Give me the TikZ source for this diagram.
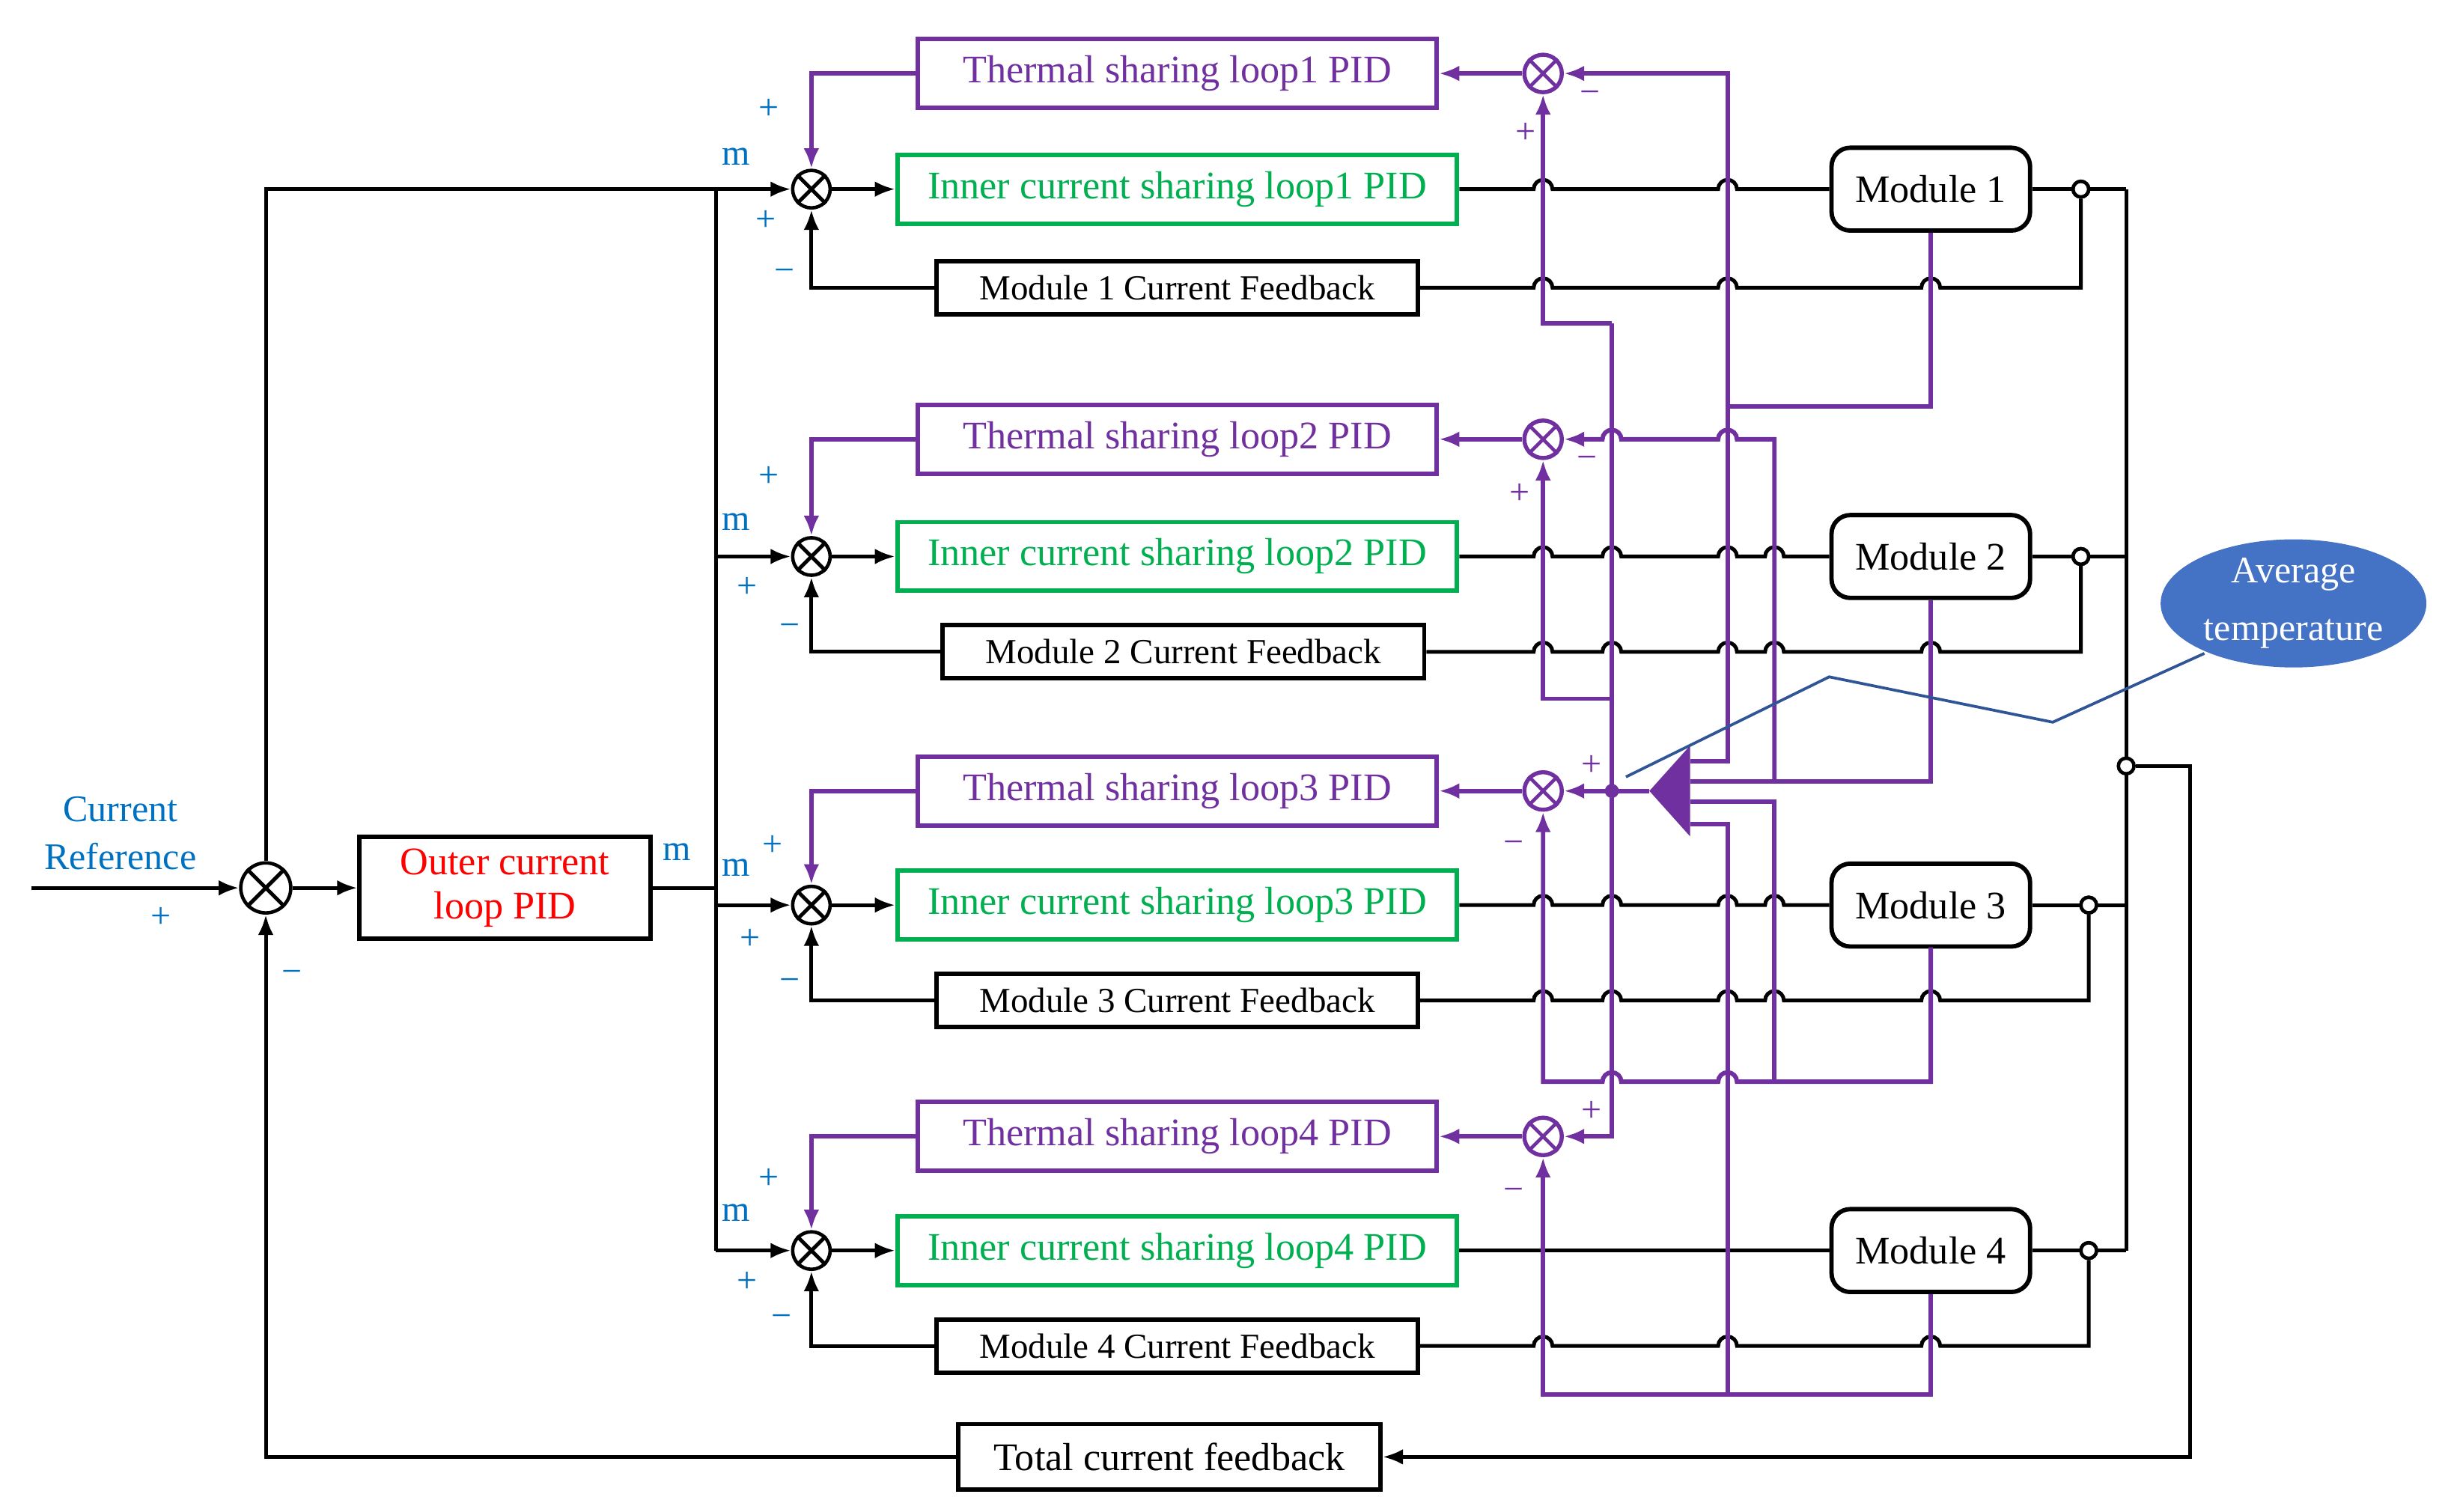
\documentclass[tikz,border=0pt]{standalone}
\usepackage{fontspec}
\setmainfont{Liberation Serif}
\usetikzlibrary{arrows.meta,shapes.geometric}
\definecolor{pur}{HTML}{7030A0}
\definecolor{grn}{HTML}{00B050}
\definecolor{lbl}{HTML}{0070C0}
\definecolor{ell}{HTML}{4472C4}
\definecolor{bln}{HTML}{2F5597}
\newcommand\hopseq[2]{\foreach \h in {#2}{ -- (\h-6,#1) arc[start angle=180,end angle=0,radius=6pt]}}
\begin{document}
\begin{tikzpicture}[x=1pt,y=-1pt,
 bl/.style={line width=2.4pt,black},
 pp/.style={line width=2.8pt,pur},
 ar/.style={-{Latex[length=13pt,width=10pt]}},
 box/.style={draw,line width=2.8pt,minimum height=44pt,inner sep=0pt,font=\fontsize{25}{28}\selectfont},
 fb/.style={draw,line width=2.8pt,minimum height=34pt,inner sep=0pt,font=\fontsize{22.5}{25}\selectfont},
 mod/.style={draw,line width=2.8pt,rounded corners=12pt,minimum width=127pt,minimum height=53pt,font=\fontsize{25}{28}\selectfont},
 sumb/.style={circle,draw,line width=2.2pt,minimum size=24pt,inner sep=0pt},
 sump/.style={circle,draw=pur,line width=2.6pt,minimum size=24pt,inner sep=0pt},
 lb/.style={text=lbl,font=\fontsize{23}{26}\selectfont},
 lp/.style={text=pur,font=\fontsize{23}{26}\selectfont},
 dot/.style={circle,draw,line width=2.2pt,fill=white,minimum size=10pt,inner sep=0pt}]
\useasboundingbox (0,0) rectangle (1562,967);
% left part
\node[lb,align=center,font=\fontsize{24}{31}\selectfont] (cr) at (77,533) {Current\\Reference};
\node[sumb,minimum size=32pt] (S0) at (170,568) {};
\draw[bl] (S0.north east)--(S0.south west) (S0.north west)--(S0.south east);
\node[box,minimum width=186pt,minimum height=65pt,align=center,text=red] (O) at (323,568) {Outer current\\loop PID};
\node[box,minimum width=270pt,minimum height=42pt] (TF) at (748,932) {Total current feedback};
\draw[bl,ar] (20,568)--(S0.west);
\draw[bl,ar] (S0.east)--(O.west);
\draw[bl] (O.east)--(458,568);
\draw[bl] (S0.north)--(170,121)--(458,121);
\draw[bl] (458,121)--(458,800);
\node[lb] at (103,587) {+};
\node[lb] at (187,625) {−};
\node[lb] at (433,545) {m};
% rows
\foreach \k/\T/\I/\F/\fw/\dx/\mm/\pa/\pb/\pc/\pd/\pe/\pf in
 {1/47/121/184/308/1331/100/492/70/490/141/502/176,
  2/281/356/417/308/1331/334/492/305/478/376/505/403,
  3/506/579/640/308/1336/555/494/541/480/601/505/630,
  4/727/800/861/308/1336/776/492/754/478/820/500/845}{
 \node[box,draw=pur,text=pur,minimum width=332pt] (T\k) at (753,\T) {Thermal sharing loop\k\ PID};
 \node[box,draw=grn,text=grn,minimum width=358pt] (I\k) at (753,\I) {Inner current sharing loop\k\ PID};
 \node[mod] (M\k) at (1235,\I) {Module \k};
 \node[sumb] (i\k) at (519,\I) {};
 \draw[bl] (i\k.north east)--(i\k.south west) (i\k.north west)--(i\k.south east);
 \node[sump] (s\k) at (987,\T) {};
 \draw[pp,line width=2.2pt] (s\k.north east)--(s\k.south west) (s\k.north west)--(s\k.south east);
 \draw[bl,ar] (458,\I)--(i\k.west);
 \draw[bl,ar] (i\k.east)--(I\k.west);
 \draw[pp,ar] (T\k.west) -| (i\k.north);
 \draw[pp,ar] (s\k.west)--(T\k.east);
 \draw[bl] (M\k.east)--(1360,\I);
 \node[dot] (d\k) at (\dx,\I) {};
 \node[lb] at (471,\mm) {m};
 \node[lb] at (\pa,\pb) {+};
 \node[lb] at (\pc,\pd) {+};
 \node[lb] at (\pe,\pf) {−};
}
\node[fb,minimum width=308pt] (F1) at (753,184) {Module 1 Current Feedback};
\node[fb,minimum width=308pt] (F2) at (757,417) {Module 2 Current Feedback};
\node[fb,minimum width=308pt] (F3) at (753,640) {Module 3 Current Feedback};
\node[fb,minimum width=308pt] (F4) at (753,861) {Module 4 Current Feedback};
\foreach \k in {1,2,3,4}{\draw[bl,ar] (F\k.west) -| (i\k.south);}
% black lines with hops
\draw[bl] (I1.east) \hopseq{121}{987,1105} -- (M1.west);
\draw[bl] (I2.east) \hopseq{356}{987,1031,1105,1135} -- (M2.west);
\draw[bl] (I3.east) \hopseq{579}{987,1031,1105,1135} -- (M3.west);
\draw[bl] (I4.east) -- (M4.west);
\draw[bl] (F1.east) \hopseq{184}{987,1105,1235} -- (1331,184) -- (d1.south);
\draw[bl] (F2.east) \hopseq{417}{987,1031,1105,1135,1235} -- (1331,417) -- (d2.south);
\draw[bl] (F3.east) \hopseq{640}{987,1031,1105,1135,1235} -- (1336,640) -- (d3.south);
\draw[bl] (F4.east) \hopseq{861}{987,1105,1235} -- (1336,861) -- (d4.south);
\foreach \k in {1,2,3,4}{\node[dot] at (d\k) {};}
\draw[bl] (1360,121)--(1360,800);
\node[dot] (bd) at (1360,490) {};
\draw[bl,ar] (bd.east)--(1401,490)--(1401,932)--(TF.east);
\draw[bl,ar] (TF.west) -| (S0.south);
% purple network
\coordinate (tip) at (1055,506);
\fill[pur] (1055,506)--(1081,477)--(1081,535)--cycle;
\node[circle,fill=pur,minimum size=9pt,inner sep=0pt] (avd) at (1031,506) {};
\draw[pp,ar] (tip)--(avd.center)--(s3.east);
\draw[pp,ar] (1031,207)--(1031,727)--(s4.east);
\draw[pp,ar] (1031,207)--(987,207)--(s1.south);
\draw[pp,ar] (1031,447)--(987,447)--(s2.south);
\draw[pp] (M1.south)--(1235,260)--(1105,260);
\draw[pp,ar] (1081,487)--(1105,487)--(1105,47)--(s1.east);
\draw[pp] (M2.south)--(1235,500)--(1081,500);
\draw[pp,{Latex[length=13pt,width=10pt]}-] (s2.east) \hopseq{281}{1031,1105} -- (1135,281) -- (1135,500);
\draw[pp,ar] (1235,606)--(1235,692)--(1111,692) arc[start angle=0,end angle=180,radius=6pt] -- (1037,692) arc[start angle=0,end angle=180,radius=6pt] -- (987,692) -- (s3.south);
\draw[pp] (1081,513)--(1135,513)--(1135,692);
\draw[pp,ar] (M4.south)--(1235,892)--(987,892)--(s4.south);
\draw[pp] (1081,527)--(1105,527)--(1105,892);
% sign labels
\node[lp] at (1017,62) {−}; \node[lp] at (976,85) {+};
\node[lp] at (1015,296) {−}; \node[lp] at (972,316) {+};
\node[lp] at (1018,490) {+}; \node[lp] at (968,542) {−};
\node[lp] at (1018,711) {+}; \node[lp] at (968,764) {−};
% average temperature
\node[ellipse,fill=ell,minimum width=170pt,minimum height=76pt,inner sep=0pt,align=center,text=white,font=\fontsize{24}{37}\selectfont] (avg) at (1467,386) {Average\\temperature};
\draw[bln,line width=1.8pt] (1410,418)--(1313,462)--(1170,433)--(1040,497);
\end{tikzpicture}
\end{document}
